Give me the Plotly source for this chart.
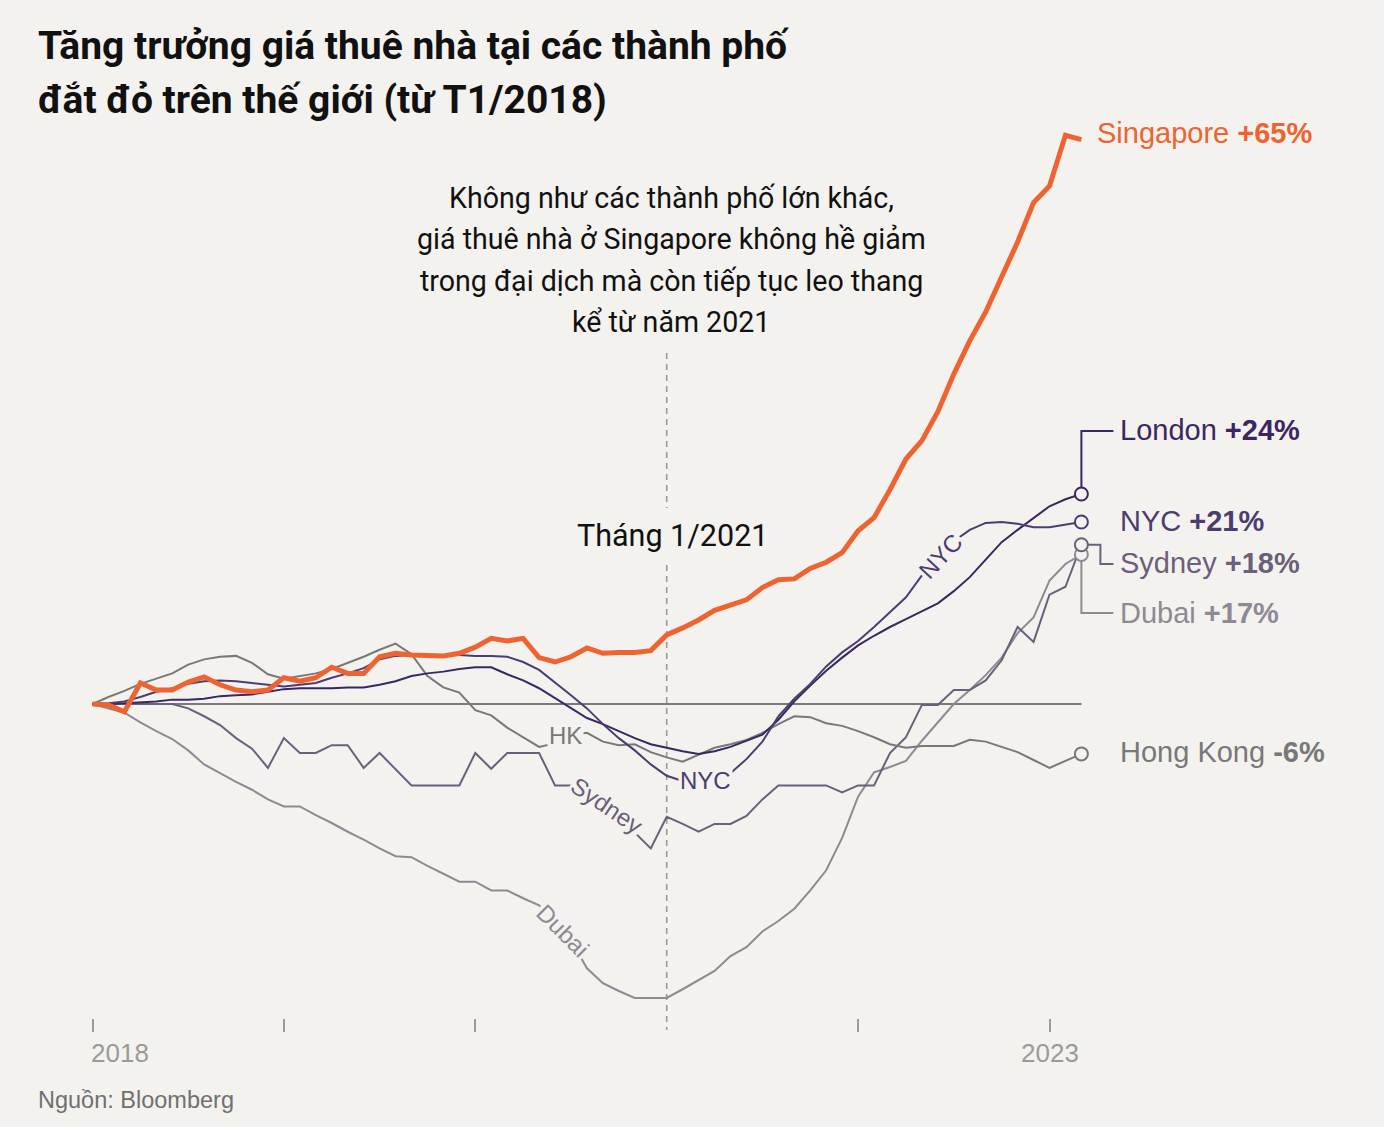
import plotly.graph_objects as go

# ---------------- data (percent change since Jan 2018, monthly) ----------------
months = list(range(63))  # Jan 2018 .. Mar 2023

singapore = [0, -0.1, -0.9, 2.4, 1.6, 1.6, 2.5, 3.1, 2.2, 1.6,
             1.4, 1.6, 3.0, 2.6, 3.0, 4.2, 3.5, 3.5, 5.4, 5.8,
             5.6, 5.5, 5.5, 5.8, 6.5, 7.5, 7.2, 7.5, 5.3, 4.8,
             5.4, 6.4, 5.8, 5.9, 5.9, 6.1, 7.9, 8.7, 9.6, 10.7,
             11.3, 11.9, 13.3, 14.2, 14.3, 15.5, 16.2, 17.3, 19.8, 21.3,
             24.5, 28.0, 30.1, 33.4, 37.7, 41.5, 44.8, 48.8, 52.8, 57.3,
             59.2, 65.0, 64.5]

london = [0, 0, 0.1, 0.2, 0.3, 0.5, 0.5, 0.6, 0.9, 1.0,
          1.1, 1.4, 1.7, 1.8, 1.8, 1.8, 1.9, 1.9, 2.2, 2.6,
          3.2, 3.5, 3.7, 4.0, 4.2, 4.2, 3.4, 2.7, 1.8, 0.7,
          -0.5, -1.6, -2.3, -3.1, -3.9, -4.6, -5.0, -5.4, -5.7, -5.4,
          -4.9, -4.2, -3.5, -1.8, 0.3, 2.1, 3.8, 5.3, 6.7, 7.8,
          8.8, 9.7, 10.6, 11.5, 12.9, 14.5, 16.5, 18.5, 19.9, 21.3,
          22.6, 23.4, 24.0]

nyc = [0, 0.1, 0.3, 0.8, 1.4, 1.8, 2.3, 2.6, 2.7, 2.6,
       2.4, 2.2, 2.0, 2.2, 2.4, 3.0, 3.5, 4.1, 5.1, 5.5,
       5.6, 5.6, 5.6, 5.6, 5.5, 5.5, 5.4, 4.8, 3.9, 2.5,
       1.0, -0.5, -2.3, -3.9, -5.3, -6.9, -8.2, -8.8, -9.0, -8.7,
       -7.9, -6.3, -4.3, -1.4, 0.6, 2.3, 4.3, 5.9, 7.2, 8.8,
       10.5, 12.2, 14.7, 17.0, 18.6, 19.9, 20.7, 20.8, 20.6, 20.2,
       20.2, 20.5, 20.8]

hong_kong = [0, 0.8, 1.5, 2.3, 2.9, 3.5, 4.5, 5.1, 5.4, 5.5,
             4.7, 3.4, 2.9, 3.2, 3.5, 4.0, 4.7, 5.4, 6.2, 6.9,
             5.7, 3.2, 1.9, 1.3, -0.7, -1.3, -2.7, -3.8, -4.9, -4.5,
             -3.5, -3.3, -4.3, -4.7, -4.6, -5.5, -6.1, -6.6, -5.8, -5.0,
             -4.6, -4.1, -3.3, -2.3, -1.4, -1.5, -2.2, -2.5, -3.1, -3.8,
             -4.6, -5.0, -4.8, -4.8, -4.8, -4.1, -4.3, -4.9, -5.5, -6.4,
             -7.3, -6.5, -5.7]

sydney = [0, 0, 0, 0, 0, 0, -0.5, -1.4, -2.4, -3.9,
          -5.1, -7.3, -3.9, -5.6, -5.6, -4.7, -4.7, -7.3, -5.6, -7.4,
          -9.3, -9.3, -9.3, -9.3, -5.6, -7.4, -5.6, -5.6, -5.6, -9.3,
          -9.3, -10.2, -12.0, -13.8, -14.7, -16.5, -12.9, -13.7, -14.6, -13.7,
          -13.7, -12.8, -10.9, -9.3, -9.3, -9.3, -9.3, -10.1, -9.3, -9.3,
          -5.6, -3.8, -0.1, -0.1, 1.6, 1.6, 2.7, 5.0, 8.8, 7.1,
          12.5, 13.4, 18.2]

dubai = [0, -0.5, -1.0, -2.1, -3.1, -4.0, -5.3, -6.9, -7.9, -8.9,
         -9.8, -10.9, -11.7, -11.7, -12.7, -13.6, -14.6, -15.5, -16.5, -17.4,
         -17.5, -18.5, -19.4, -20.3, -20.3, -21.3, -21.3, -22.2, -23.0, -24.7,
         -27.0, -30.2, -31.9, -32.8, -33.6, -33.6, -33.6, -32.6, -31.5, -30.5,
         -28.8, -27.8, -26.0, -24.8, -23.4, -21.3, -19.0, -15.3, -10.6, -7.8,
         -7.2, -6.5, -4.2, -2.1, 0.0, 1.6, 3.3, 5.3, 8.1, 9.9,
         14.1, 16.0, 17.1]

end_labels = ["Singapore", "London", "NYC", "Sydney", "Dubai", "Hong Kong"]
end_pcts = ["+65%", "+24%", "+21%", "+18%", "+17%", "-6%"]
tick_years = [2018, 2019, 2020, 2022, 2023]
marker_year = 2021

x = [2018 + m / 12 for m in months]

# ---------------- style ----------------
BG = "#f4f2ef"
C_SG = "#ee6330"
C_LON = "#3b2662"
C_NYC = "#4d3c70"
C_SYD = "#6d5f7a"
C_DUB = "#8e8993"
C_HK = "#787878"
LAB_FONT = "Liberation Sans, Arial, sans-serif"
TXT_FONT = "Roboto, Noto Sans, sans-serif"

W, H = 1384, 1127
MB = 95
PH = H - MB
PX_PER_YEAR = 191.4
PX_PER_PCT = 8.75
ZERO_PX = 704
X0_PX = 92.5

x_left = 2018 - X0_PX / PX_PER_YEAR
x_right = 2018 + (W - X0_PX) / PX_PER_YEAR
y_top = ZERO_PX / PX_PER_PCT
y_bot = -(PH - ZERO_PX) / PX_PER_PCT


def dx(px):
    return px / PX_PER_YEAR


def vy(py):
    return (ZERO_PX - py) / PX_PER_PCT


def paper_x(px):
    return px / W


def paper_y(py):
    return (PH - py) / PH


fig = go.Figure()

# zero baseline
fig.add_trace(go.Scatter(x=[x[0], x[-1]], y=[0, 0], mode="lines",
                         line=dict(color="#7a7a7a", width=2), hoverinfo="skip"))

series = [
    ("Dubai", dubai, C_DUB, 2),
    ("Sydney", sydney, C_SYD, 2),
    ("Hong Kong", hong_kong, C_HK, 2),
    ("London", london, C_LON, 2),
    ("NYC", nyc, C_NYC, 2),
    ("Singapore", singapore, C_SG, 5),
]
for name, vals, col, w in series:
    fig.add_trace(go.Scatter(x=x, y=vals, mode="lines", name=name,
                             line=dict(color=col, width=w)))

xe = x[-1]
# leader lines
leaders = [
    (f"M {xe},{london[-1]} L {xe},{vy(431)} L {xe + dx(32)},{vy(431)}", C_LON),
    (f"M {xe},{sydney[-1]} L {xe + dx(19)},{sydney[-1]} L {xe + dx(19)},{vy(564)} L {xe + dx(32)},{vy(564)}", C_SYD),
    (f"M {xe},{dubai[-1]} L {xe},{vy(613)} L {xe + dx(32)},{vy(613)}", C_DUB),
]
shapes = []
for path, col in leaders:
    shapes.append(dict(type="path", path=path, xref="x", yref="y",
                       line=dict(color=col, width=2), layer="below"))

# dashed Jan 2021 line (two segments around label)
for ya, yb in [(vy(353), vy(508)), (vy(565), vy(1030))]:
    shapes.append(dict(type="line", xref="x", yref="y", x0=marker_year, x1=marker_year,
                       y0=ya, y1=yb, line=dict(color="#9a9a9a", width=1.6, dash="6px,5px"),
                       layer="below"))

# end circles
for name, vals, col in [("Dubai", dubai, C_DUB), ("Sydney", sydney, C_SYD),
                        ("Hong Kong", hong_kong, C_HK), ("NYC", nyc, C_NYC),
                        ("London", london, C_LON)]:
    fig.add_trace(go.Scatter(x=[xe], y=[vals[-1]], mode="markers",
                             marker=dict(size=13, color=BG, line=dict(color=col, width=2))))

ann = []
# end labels
lab_pos = [
    (1095, 133, C_SG),
    (1118, 430, C_LON),
    (1118, 521, C_NYC),
    (1118, 563, C_SYD),
    (1118, 613, C_DUB),
    (1118, 752, C_HK),
]
for (lx, ly, c1), nm, pc in zip(lab_pos, end_labels, end_pcts):
    ann.append(dict(x=2018 + dx(lx - X0_PX), y=vy(ly), xref="x", yref="y",
                    text=f"{nm} <b>{pc}</b>", showarrow=False, xanchor="left",
                    yanchor="middle", font=dict(family=LAB_FONT, size=29, color=c1)))

# inline labels
inline = [
    ("NYC", 705, 780, 0, C_NYC),
    ("NYC", 940, 556, -47, C_NYC),
    ("HK", 565, 735, 0, C_HK),
    ("Sydney", 607, 805, 34, C_SYD),
    ("Dubai", 563, 930, 45, C_DUB),
]
for t, lx, ly, ang, col in inline:
    ann.append(dict(x=2018 + dx(lx - X0_PX), y=vy(ly), xref="x", yref="y", text=t,
                    showarrow=False, textangle=ang, bgcolor=BG, borderpad=1,
                    font=dict(family=LAB_FONT, size=24, color=col)))

# title
for i, line in enumerate(["Tăng trưởng giá thuê nhà tại các thành phố",
                          "đắt đỏ trên thế giới (từ T1/2018)"]):
    ann.append(dict(x=paper_x(36), y=paper_y(46 + 54 * i), xref="paper", yref="paper",
                    text=f"<b>{line}</b>", showarrow=False, xanchor="left", yanchor="middle",
                    font=dict(family=TXT_FONT, size=39, color="#111111")))

# note
note_lines = ["Không như các thành phố lớn khác,",
              "giá thuê nhà ở Singapore không hề giảm",
              "trong đại dịch mà còn tiếp tục leo thang",
              "kể từ năm 2021"]
for i, line in enumerate(note_lines):
    ann.append(dict(x=paper_x(671), y=paper_y(198 + 41.3 * i), xref="paper", yref="paper",
                    text=line, showarrow=False, xanchor="center", yanchor="middle",
                    font=dict(family=TXT_FONT, size=28.6, color="#111111")))

ann.append(dict(x=paper_x(672), y=paper_y(535), xref="paper", yref="paper",
                text="Tháng 1/2021", showarrow=False, xanchor="center", yanchor="middle",
                font=dict(family=TXT_FONT, size=30.5, color="#111111")))

# year labels
ann.append(dict(x=tick_years[0], y=paper_y(1053), xref="x", yref="paper", text=str(tick_years[0]),
                showarrow=False, xanchor="left", yanchor="middle", xshift=-4,
                font=dict(family=LAB_FONT, size=26, color="#9a9a9a")))
ann.append(dict(x=tick_years[-1], y=paper_y(1053), xref="x", yref="paper", text=str(tick_years[-1]),
                showarrow=False, xanchor="center", yanchor="middle",
                font=dict(family=LAB_FONT, size=26, color="#9a9a9a")))

# source
ann.append(dict(x=paper_x(36), y=paper_y(1100), xref="paper", yref="paper",
                text="Nguồn: Bloomberg", showarrow=False, xanchor="left", yanchor="middle",
                font=dict(family=LAB_FONT, size=23.5, color="#707070")))

fig.update_layout(
    width=W, height=H, autosize=False,
    margin=dict(l=0, r=0, t=0, b=MB, pad=0),
    paper_bgcolor=BG, plot_bgcolor=BG,
    showlegend=False,
    shapes=shapes, annotations=ann,
    xaxis=dict(range=[x_left, x_right], showgrid=False, zeroline=False, showline=False,
               tickmode="array", tickvals=tick_years, ticks="inside", ticklen=13,
               tickwidth=1.5, tickcolor="#9a9a9a", showticklabels=False, fixedrange=True),
    yaxis=dict(range=[y_bot, y_top], visible=False, fixedrange=True),
    hovermode=False,
)

fig.write_html("out.html", post_script="document.body.style.margin='0';",
               config={"displayModeBar": False})
